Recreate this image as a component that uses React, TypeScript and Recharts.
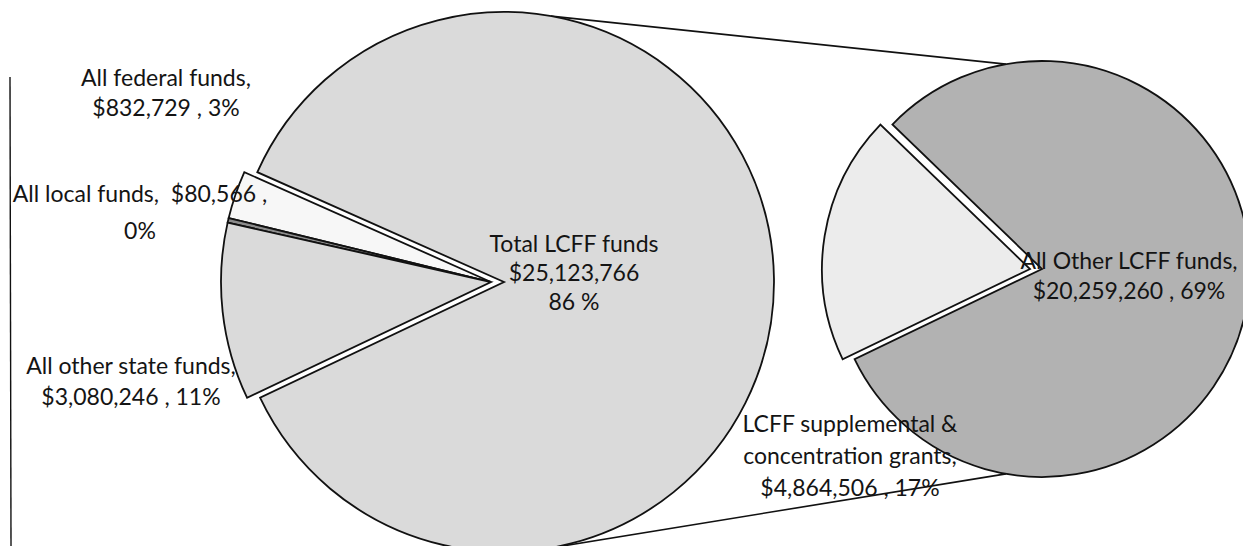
import { PieChart, Pie, Cell, Customized } from "recharts";

// main pie: where the district money comes from
const mainNames = ["All federal funds", "All local funds", "All other state funds", "Total LCFF funds"];
const mainValues = [832729, 80566, 3080246, 25123766];
const mainPercents = ["3%", "0%", "11%", "86 %"];

// second pie: breakdown of the LCFF slice
const lcffNames = ["LCFF supplemental &\nconcentration grants", "All Other LCFF funds"];
const lcffValues = [4864506, 20259260];
const lcffPercents = ["17%", "69%"];

const mainData = mainNames.map((name, i) => ({ name, value: mainValues[i], pct: mainPercents[i] }));
const lcffData = lcffNames.map((name, i) => ({ name, value: lcffValues[i], pct: lcffPercents[i] }));

const W = 1243;
const H = 546;
const FONT = "Lato, 'Open Sans', sans-serif";
const FS = 23;

const MAIN = { cx: 504, cy: 282, r: 270, start: 156, explode: 13 };
const SIDE = { cx: 1042, cy: 269, r: 208, start: 136, explode: 12 };

const mainFills = ["#f7f7f7", "#8c8c8c", "#dadada", "#dadada"];
const sideFills = ["#ececec", "#b2b2b2"];

// label anchors (center x, first line y) + line spacing
const mainLabelPos = [
  [166, 77, 30],
  [140, 193, 37],
  [131, 365, 31],
  [574, 243, 29],
];
const sideLabelPos = [
  [850, 423, 32],
  [1129, 260, 30],
];

const money = (v: number) => "$" + v.toLocaleString("en-US");

function mainLines(i: number): string[] {
  const d = mainData[i];
  if (i === 1) return [`${d.name},  ${money(d.value)} ,`, d.pct];
  if (i === 3) return [d.name, money(d.value), d.pct];
  return [`${d.name},`, `${money(d.value)} , ${d.pct}`];
}

function sideLines(i: number): string[] {
  const d = lcffData[i];
  const parts = d.name.split("\n");
  parts[parts.length - 1] += ",";
  return [...parts, `${money(d.value)} , ${d.pct}`];
}

function LabelText({ x, y, gap, lines }: { x: number; y: number; gap: number; lines: string[] }) {
  return (
    <text
      x={x}
      y={y}
      textAnchor="middle"
      fill="#141414"
      fontSize={FS}
      fontFamily={FONT}
      style={{ whiteSpace: "pre" }}
    >
      {lines.map((l, k) => (
        <tspan key={k} x={x} y={y + k * gap} dominantBaseline="central">
          {l}
        </tspan>
      ))}
    </text>
  );
}

function Connectors() {
  const rad = (a: number) => (a * Math.PI) / 180;
  const pt = (c: typeof MAIN, a: number) => [c.cx + c.r * Math.cos(rad(a)), c.cy - c.r * Math.sin(rad(a))];
  const [x1, y1] = pt(MAIN, 80);
  const [x2, y2] = pt(SIDE, 100);
  const [x3, y3] = pt(MAIN, -81);
  const [x4, y4] = pt(SIDE, -100);
  return (
    <g stroke="#111" strokeWidth={1.6}>
      <line x1={x1} y1={y1} x2={x2} y2={y2} />
      <line x1={x3} y1={y3} x2={x4} y2={y4} />
      <line x1={10} y1={77} x2={11} y2={H} strokeWidth={1.4} />
    </g>
  );
}

export default function App() {
  return (
    <div style={{ position: "absolute", left: 0, top: 0, width: W, height: H, background: "#fff" }}>
      <PieChart width={W} height={H} margin={{ top: 0, right: 0, bottom: 0, left: 0 }}>
        <Customized component={Connectors} />
        {/* LCFF slice stays at the center */}
        <Pie
          data={mainData}
          dataKey="value"
          cx={MAIN.cx}
          cy={MAIN.cy}
          outerRadius={MAIN.r}
          startAngle={MAIN.start}
          endAngle={MAIN.start + 360}
          isAnimationActive={false}
          labelLine={false}
          label={(p: any) =>
            p.index === 3 ? (
              <LabelText
                x={mainLabelPos[3][0]}
                y={mainLabelPos[3][1]}
                gap={mainLabelPos[3][2]}
                lines={mainLines(3)}
              />
            ) : null
          }
        >
          {mainData.map((d, i) => (
            <Cell
              key={d.name}
              fill={i === 3 ? mainFills[i] : "none"}
              stroke={i === 3 ? "#111" : "none"}
              strokeWidth={1.8}
            />
          ))}
        </Pie>
        {/* the small slices, pulled out to the left */}
        <Pie
          data={mainData}
          dataKey="value"
          cx={MAIN.cx - MAIN.explode}
          cy={MAIN.cy}
          outerRadius={MAIN.r}
          startAngle={MAIN.start}
          endAngle={MAIN.start + 360}
          isAnimationActive={false}
          labelLine={false}
          label={(p: any) =>
            p.index !== 3 ? (
              <LabelText
                x={mainLabelPos[p.index][0]}
                y={mainLabelPos[p.index][1]}
                gap={mainLabelPos[p.index][2]}
                lines={mainLines(p.index)}
              />
            ) : null
          }
        >
          {mainData.map((d, i) => (
            <Cell
              key={d.name}
              fill={i !== 3 ? mainFills[i] : "none"}
              stroke={i !== 3 ? "#111" : "none"}
              strokeWidth={1.8}
            />
          ))}
        </Pie>
        {/* second pie */}
        <Pie
          data={lcffData}
          dataKey="value"
          cx={SIDE.cx}
          cy={SIDE.cy}
          outerRadius={SIDE.r}
          startAngle={SIDE.start}
          endAngle={SIDE.start + 360}
          isAnimationActive={false}
          labelLine={false}
          label={(p: any) =>
            p.index === 1 ? (
              <LabelText x={sideLabelPos[1][0]} y={sideLabelPos[1][1]} gap={sideLabelPos[1][2]} lines={sideLines(1)} />
            ) : null
          }
        >
          {lcffData.map((d, i) => (
            <Cell
              key={d.name}
              fill={i === 1 ? sideFills[i] : "none"}
              stroke={i === 1 ? "#111" : "none"}
              strokeWidth={1.8}
            />
          ))}
        </Pie>
        <Pie
          data={lcffData}
          dataKey="value"
          cx={SIDE.cx - SIDE.explode}
          cy={SIDE.cy}
          outerRadius={SIDE.r}
          startAngle={SIDE.start}
          endAngle={SIDE.start + 360}
          isAnimationActive={false}
          labelLine={false}
          label={(p: any) =>
            p.index === 0 ? (
              <LabelText x={sideLabelPos[0][0]} y={sideLabelPos[0][1]} gap={sideLabelPos[0][2]} lines={sideLines(0)} />
            ) : null
          }
        >
          {lcffData.map((d, i) => (
            <Cell
              key={d.name}
              fill={i === 0 ? sideFills[i] : "none"}
              stroke={i === 0 ? "#111" : "none"}
              strokeWidth={1.8}
            />
          ))}
        </Pie>
      </PieChart>
    </div>
  );
}
